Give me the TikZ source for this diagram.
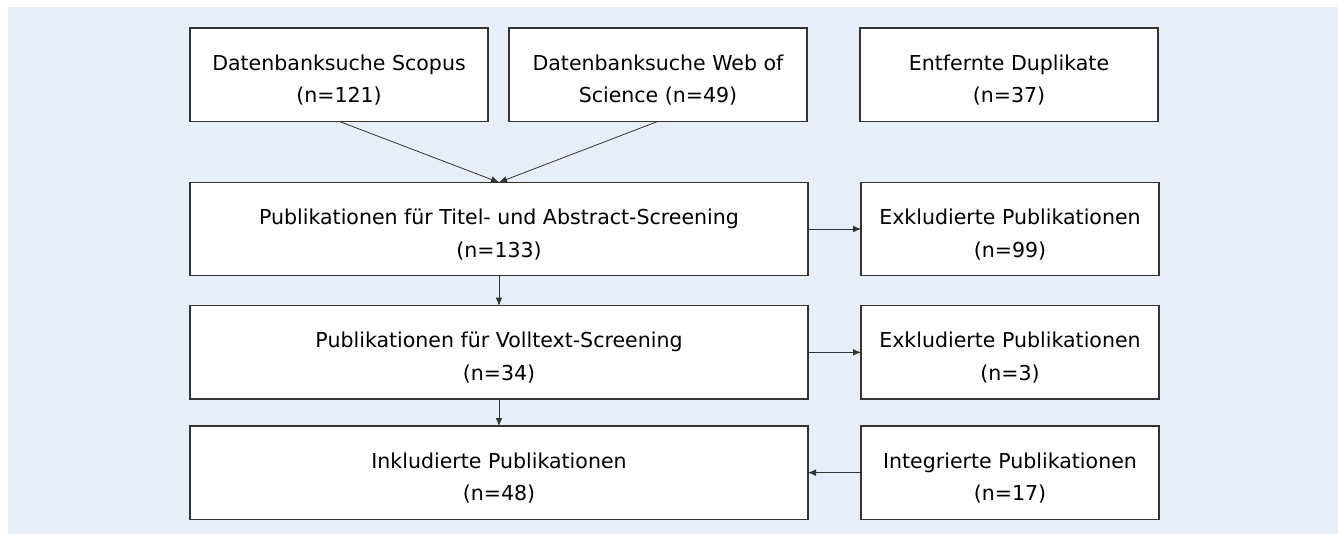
\documentclass[tikz,border=0pt]{standalone}
\usepackage{fontspec}
\setmainfont{DejaVu Sans}
\usetikzlibrary{positioning,arrows.meta}
\definecolor{bgblue}{HTML}{E8EEF8}
\definecolor{boxline}{HTML}{333333}

\begin{document}
\begin{tikzpicture}[
	->/.style={boxline, line width=0.6pt, arrows={-Latex[length=6pt,width=5pt]}},
	every node/.style={black,
						align=center,
						font=\fontsize{15.4}{24.5}\selectfont,
						inner sep=1pt
						},
	proc/.style= {draw=boxline,
				  fill=white,
				  line width=1.1pt,
				  minimum width=223.5pt,
				  minimum height=70pt,
				  outer sep=0pt,
				  text height=44.5pt
	},
	wide/.style={proc, minimum width=463.5pt}
]
	\useasboundingbox (0,0) rectangle (1003.5pt,-400.5pt);
	\fill[bgblue] (6pt,-5.25pt) rectangle (1003.5pt,-400.5pt);
	\node (scopus) [proc, anchor=north west] at (142.5pt,-21pt) {Datenbanksuche Scopus\\(n=121)};
	\node (wos) [proc, right=15.75pt of scopus] {Datenbanksuche Web of\\Science (n=49)};
	\node (duplikate) [proc, right=39.75pt of wos] {Entfernte Duplikate\\(n=37)};
	\node (titel) [wide, below right=45.75pt and 0pt of scopus.south west] {Publikationen für Titel- und Abstract-Screening\\(n=133)};
	\node (exkltitel) [proc, right=39.75pt of titel] {Exkludierte Publikationen\\(n=99)};
	\node (volltext) [wide, below=22.5pt of titel] {Publikationen für Volltext-Screening\\(n=34)};
	\node (exklvoll) [proc, right=39.75pt of volltext] {Exkludierte Publikationen\\(n=3)};
	\node (inkl) [wide, below=20.25pt of volltext] {Inkludierte Publikationen\\(n=48)};
	\node (integriert) [proc, right=39.75pt of inkl] {Integrierte Publikationen\\(n=17)};
	\draw[->] (scopus.south) -- (titel.north);
	\draw[->] (wos.south) -- (titel.north);
	\draw[->] (titel) -- (exkltitel);
	\draw[->] (titel) -- (volltext);
	\draw[->] (volltext) -- (exklvoll);
	\draw[->] (volltext) -- (inkl);
	\draw[->] (integriert) -- (inkl);
\end{tikzpicture}
\end{document}
